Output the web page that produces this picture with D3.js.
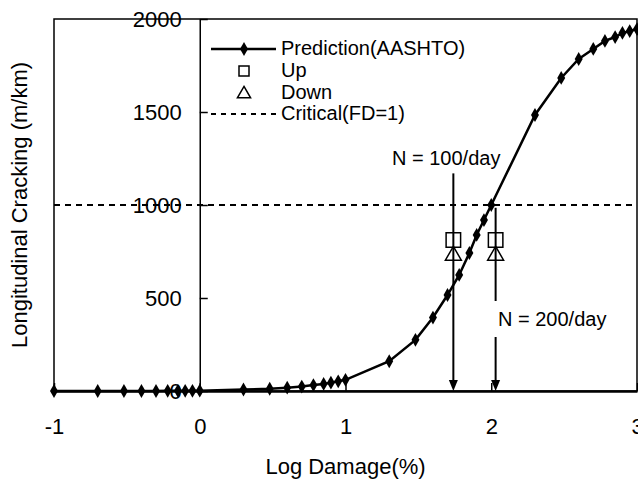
<!DOCTYPE html>
<html>
<head>
<meta charset="utf-8">
<script src="https://cdn.jsdelivr.net/npm/d3@7"></script>
<style>
  body { margin: 0; background: #fff; }
  text { font-family: "Liberation Sans", Arial, sans-serif; fill: #000; }
</style>
</head>
<body>
<div id="viz"></div>
<script>
// log damage (%) values and predicted cracking
const logDamage = [-1, -0.7, -0.52, -0.4, -0.3, -0.22, -0.15, -0.1, -0.05, 0,
  0.3, 0.48, 0.6, 0.7, 0.78, 0.85, 0.9, 0.95, 1,
  1.3, 1.48, 1.6, 1.7, 1.78, 1.85, 1.9, 1.95, 2,
  2.3, 2.48, 2.6, 2.7, 2.78, 2.85, 2.9, 2.95, 3];
const cracking = [0, 0, 0, 0, 0, 1, 1, 1, 1, 2,
  8, 12, 18, 24, 32, 38, 45, 52, 60,
  160, 275, 395, 516, 624, 742, 839, 919, 1000,
  1484, 1683, 1785, 1839, 1882, 1903, 1925, 1935, 1946];

const measuredX = [1.74, 2.03];
const upVals = [812, 812];
const downVals = [728, 728];

const arrowX = [1.74, 2.03];
const arrowTop = [1170, 985];
const arrowLabels = ['N = 100/day', 'N = 200/day'];

const criticalVal = 1000;
const xTicks = [-1, 0, 1, 2, 3];
const yTicks = [0, 500, 1000, 1500, 2000];
const legendLabels = ['Prediction(AASHTO)', 'Up', 'Down', 'Critical(FD=1)'];

const width = 638, height = 479;
const font = '"Liberation Sans", Arial, sans-serif';
const svg = d3.select('#viz').append('svg')
  .attr('width', width)
  .attr('height', height);

const x = d3.scaleLinear().domain([-1, 3]).range([54, 637]);
const y = d3.scaleLinear().domain([0, 2000]).range([391, 19]);

// plot frame
svg.append('rect')
  .attr('x', x(-1)).attr('y', y(2000))
  .attr('width', x(3) - x(-1)).attr('height', y(0) - y(2000))
  .style('fill', 'none').style('stroke', '#000').style('stroke-width', 1.5);

// y axis sits at x = 0
const yAxis = svg.append('g')
  .attr('transform', `translate(${x(0)},0)`)
  .call(d3.axisLeft(y).tickValues(yTicks).tickFormat(d => String(d))
    .tickSizeInner(-8).tickSizeOuter(0).tickPadding(18));
yAxis.select('.domain').style('stroke-width', 1.5);
yAxis.selectAll('line').style('stroke-width', 1.5);
yAxis.selectAll('text').style('font-size', '22px').style('font-family', font);

const xAxis = svg.append('g')
  .attr('transform', `translate(0,${y(0)})`)
  .call(d3.axisBottom(x).tickValues(xTicks).tickFormat(d => String(d))
    .tickSizeInner(-8).tickSizeOuter(0).tickPadding(27));
xAxis.select('.domain').style('stroke-width', 2.5);
xAxis.selectAll('line').style('stroke-width', 1.5);
xAxis.selectAll('text').style('font-size', '22px').style('font-family', font);

// axis titles
svg.append('text')
  .attr('x', (x(-1) + x(3)) / 2).attr('y', 474)
  .attr('text-anchor', 'middle')
  .style('font-size', '22px')
  .text('Log Damage(%)');
svg.append('text')
  .attr('transform', `translate(27,${(y(0) + y(2000)) / 2}) rotate(-90)`)
  .attr('text-anchor', 'middle')
  .style('font-size', '22px')
  .text('Longitudinal Cracking (m/km)');

// critical line
svg.append('line')
  .attr('x1', x(-1)).attr('x2', x(3))
  .attr('y1', y(criticalVal)).attr('y2', y(criticalVal))
  .style('stroke', '#000').style('stroke-width', 2)
  .style('stroke-dasharray', '6,5');

// arrows
arrowX.forEach((v, i) => {
  svg.append('line')
    .attr('x1', x(v)).attr('x2', x(v))
    .attr('y1', y(arrowTop[i])).attr('y2', y(0) - 8)
    .style('stroke', '#000').style('stroke-width', 2);
  svg.append('path')
    .attr('d', `M${x(v) - 4.5},${y(0) - 11}L${x(v) + 4.5},${y(0) - 11}L${x(v)},${y(0)}Z`)
    .style('fill', '#000');
});

// measured points
const sq = d3.symbol().type(d3.symbolSquare).size(210);
const tri = d3.symbol().type(d3.symbolTriangle).size(110);
svg.append('g').selectAll('path')
  .data(measuredX)
  .join('path')
  .attr('d', sq)
  .attr('transform', (d, i) => `translate(${x(d)},${y(upVals[i])})`)
  .style('fill', 'none').style('stroke', '#000').style('stroke-width', 1.5);
svg.append('g').selectAll('path')
  .data(measuredX)
  .join('path')
  .attr('d', tri)
  .attr('transform', (d, i) => `translate(${x(d)},${y(downVals[i])})`)
  .style('fill', 'none').style('stroke', '#000').style('stroke-width', 1.5);

// prediction curve
const line = d3.line().x((d, i) => x(logDamage[i])).y(d => y(d));
svg.append('path')
  .attr('d', line(cracking))
  .style('fill', 'none').style('stroke', '#000').style('stroke-width', 2.5);
const diamond = d3.symbol().type(d3.symbolDiamond).size(55);
svg.append('g').selectAll('path')
  .data(cracking)
  .join('path')
  .attr('d', diamond)
  .attr('transform', (d, i) => `translate(${x(logDamage[i])},${y(d)})`)
  .style('fill', '#000');

// annotations (the second one has a white box that hides part of its arrow)
const labelPos = [{x: 392, y: 165, box: false}, {x: 498, y: 326, box: true}];
arrowLabels.forEach((t, i) => {
  if (labelPos[i].box) {
    svg.append('rect')
      .attr('x', labelPos[i].x - 5).attr('y', labelPos[i].y - 25)
      .attr('width', 122).attr('height', 36)
      .style('fill', '#fff');
  }
  svg.append('text')
    .attr('x', labelPos[i].x).attr('y', labelPos[i].y)
    .style('font-size', '20px')
    .text(t);
});

// legend
const lg = svg.append('g');
const rowY = [49, 71, 93, 114];
lg.append('line')
  .attr('x1', 211).attr('x2', 276).attr('y1', rowY[0]).attr('y2', rowY[0])
  .style('stroke', '#000').style('stroke-width', 2.5);
lg.append('path').attr('d', diamond).attr('transform', `translate(244,${rowY[0]})`).style('fill', '#000');
lg.append('path').attr('d', d3.symbol().type(d3.symbolSquare).size(100))
  .attr('transform', `translate(244,${rowY[1]})`)
  .style('fill', 'none').style('stroke', '#000').style('stroke-width', 1.5);
lg.append('path').attr('d', d3.symbol().type(d3.symbolTriangle).size(75))
  .attr('transform', `translate(244,${rowY[2] + 1})`)
  .style('fill', 'none').style('stroke', '#000').style('stroke-width', 1.5);
lg.append('line')
  .attr('x1', 211).attr('x2', 276).attr('y1', rowY[3]).attr('y2', rowY[3])
  .style('stroke', '#000').style('stroke-width', 2)
  .style('stroke-dasharray', '5,5');
lg.selectAll('text')
  .data(legendLabels)
  .join('text')
  .attr('x', 281)
  .attr('y', (d, i) => rowY[i] + 6)
  .style('font-size', '20px')
  .text(d => d);
</script>
</body>
</html>
